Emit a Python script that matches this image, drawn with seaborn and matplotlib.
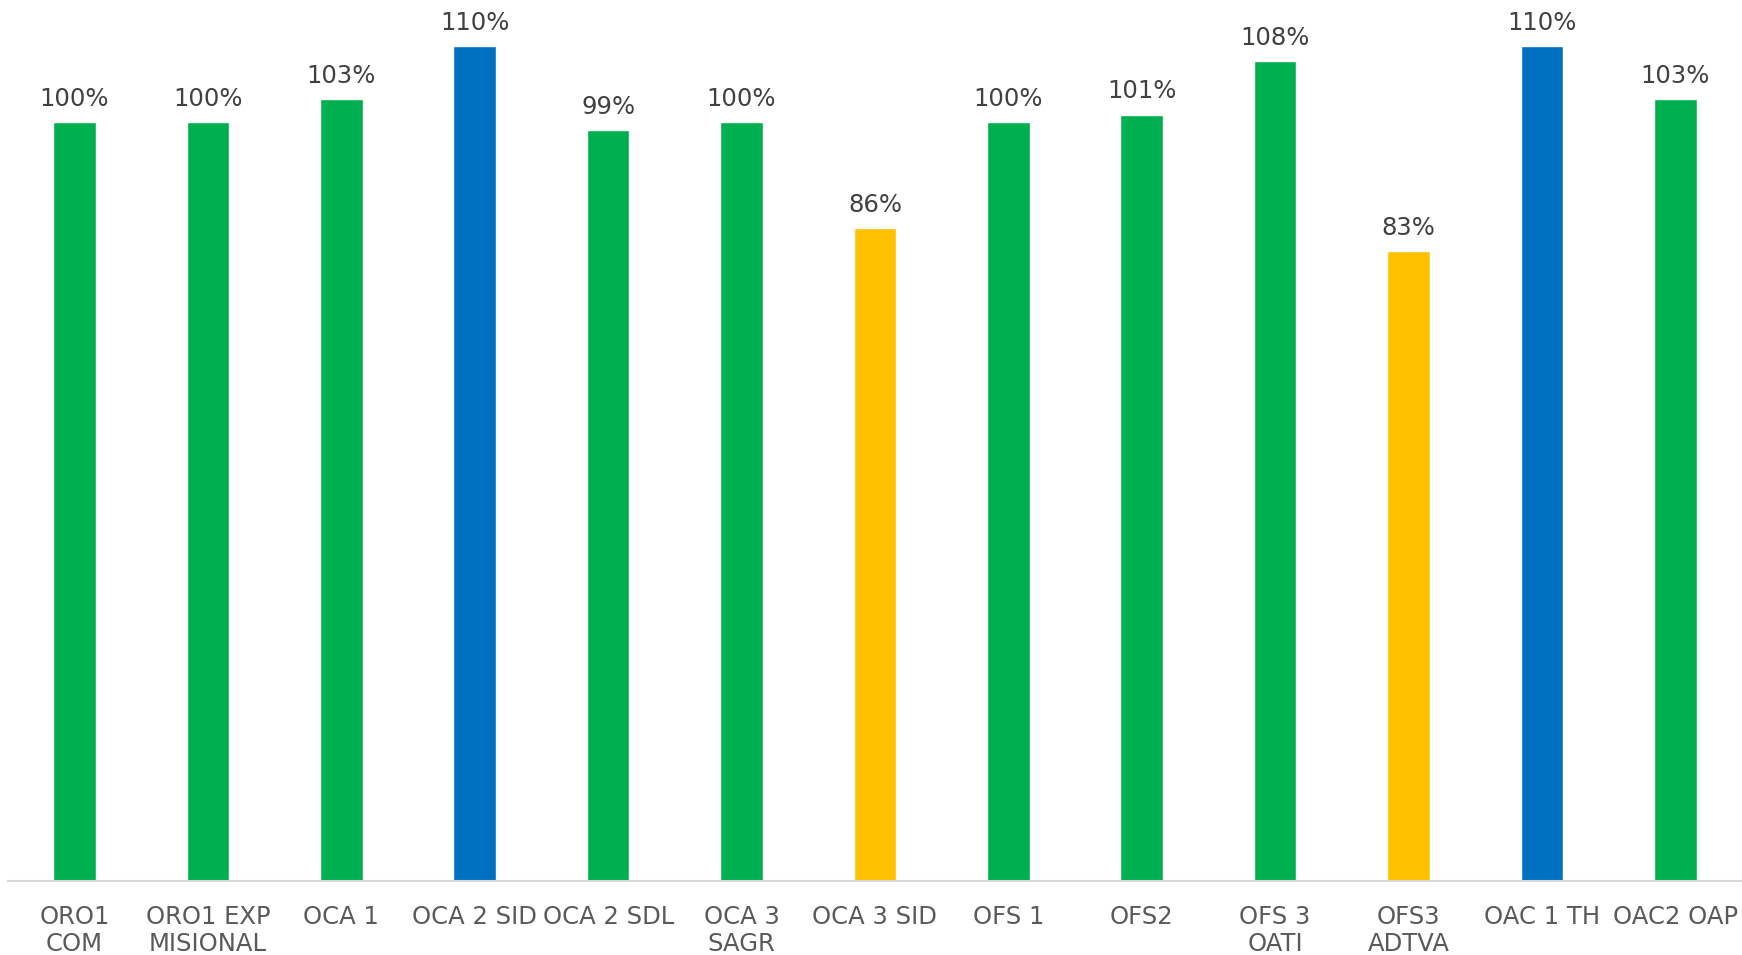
import matplotlib
matplotlib.use("Agg")
import matplotlib.pyplot as plt
import seaborn as sns
import pandas as pd

categories = ["ORO1\nCOM", "ORO1 EXP\nMISIONAL", "OCA 1", "OCA 2 SID", "OCA 2 SDL",
              "OCA 3\nSAGR", "OCA 3 SID", "OFS 1", "OFS2", "OFS 3\nOATI",
              "OFS3\nADTVA", "OAC 1 TH", "OAC2 OAP"]
values = [100, 100, 103, 110, 99, 100, 86, 100, 101, 108, 83, 110, 103]
bar_colors = ["#00B050", "#00B050", "#00B050", "#0070C0", "#00B050", "#00B050", "#FFC000",
              "#00B050", "#00B050", "#00B050", "#FFC000", "#0070C0", "#00B050"]

df = pd.DataFrame({"cat": categories, "val": values})

sns.set_style("white")
plt.rcParams['font.family'] = ['DejaVu Sans']

fig = plt.figure(figsize=(17.42, 9.55), dpi=100)
ax = fig.add_axes([0.0045, 0.0775, 0.9955, 0.9225])

sns.barplot(data=df, x="cat", y="val", hue="cat", order=categories, hue_order=categories,
            palette=dict(zip(categories, bar_colors)), legend=False, width=0.32,
            saturation=1, ax=ax)

for p, v in zip(ax.patches, values):
    ax.annotate(f"{v}%", (p.get_x() + p.get_width() / 2, p.get_height()),
                xytext=(0, 8), textcoords="offset points", ha="center", va="bottom",
                fontsize=17.5, color="#404040")

ax.set_ylim(0, 116.1)
ax.set_xlim(-0.5, len(categories) - 0.5)
ax.set_xlabel("")
ax.set_ylabel("")
ax.set_yticks([])
for s in ["top", "right", "left"]:
    ax.spines[s].set_visible(False)
ax.spines["bottom"].set_color("#D9D9D9")
ax.spines["bottom"].set_linewidth(1.5)
ax.tick_params(axis="x", length=0, pad=17, labelsize=17.5, labelcolor="#595959")
for t in ax.get_xticklabels():
    t.set_linespacing(1.2)

fig.savefig("out.png", dpi=100)
